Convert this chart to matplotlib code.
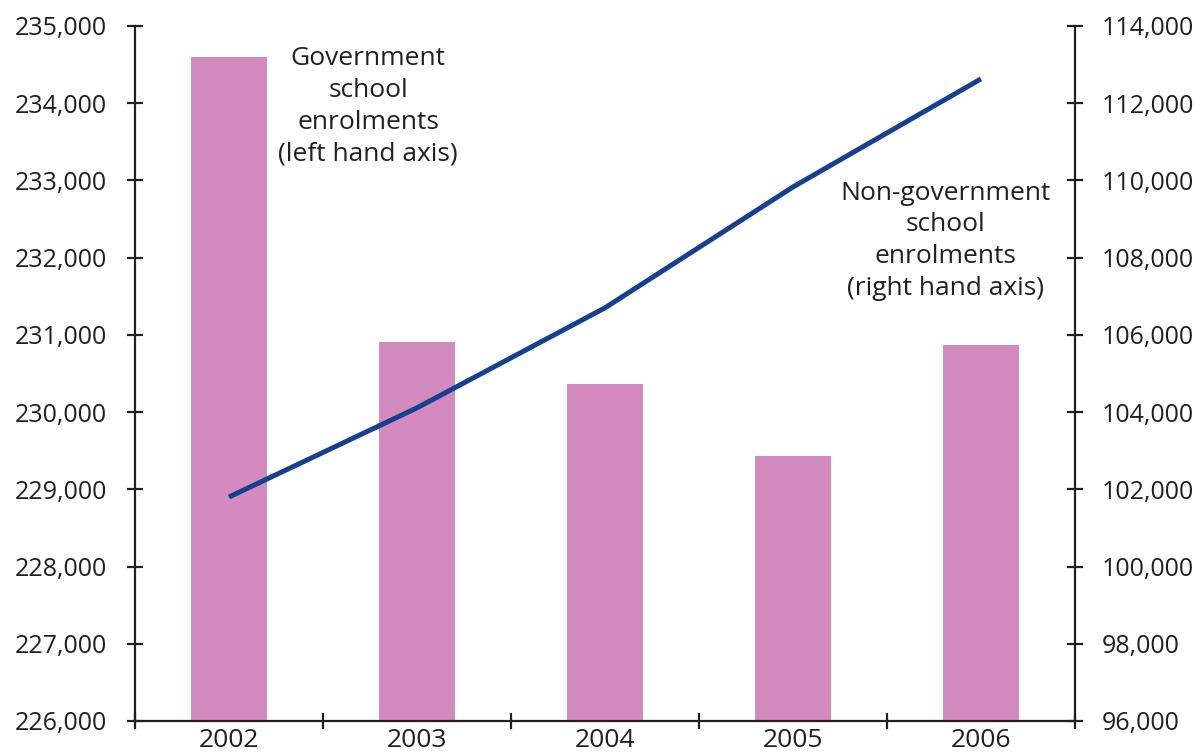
import numpy as np
import matplotlib.pyplot as plt
from matplotlib.ticker import FuncFormatter, FixedLocator

years = ["2002", "2003", "2004", "2005", "2006"]
government = [234600, 230910, 230365, 229430, 230870]
non_government = [101800, 104110, 106700, 109830, 112630]

plt.rcParams['font.family'] = ['Open Sans', 'DejaVu Sans']
ink = '#231F20'
fs = 19
tick_fs = 18

fig = plt.figure(figsize=(12.02, 7.53), dpi=100)
ax = fig.add_axes([0.1123, 0.0425, 0.7820, 0.9230])
ax2 = ax.twinx()

x = np.arange(len(years))
ax.bar(x, government, width=0.405, color='#D38BBF', zorder=2)
ax2.plot(x, non_government, color='#17408F', linewidth=3.6, solid_capstyle='butt', zorder=3)

ax.set_xlim(-0.5, len(years) - 0.5)
ax.set_ylim(226000, 235000)
ax2.set_ylim(96000, 114000)
ax.set_yticks(np.arange(226000, 235001, 1000))
ax2.set_yticks(np.arange(96000, 114001, 2000))

fmt = FuncFormatter(lambda v, p: f"{int(v):,}")
ax.yaxis.set_major_formatter(fmt)
ax2.yaxis.set_major_formatter(fmt)

ax.set_xticks(x)
ax.set_xticklabels(years)
ax.xaxis.set_minor_locator(FixedLocator(np.arange(-0.5, len(years), 1.0)))

for a in (ax, ax2):
    a.spines['top'].set_visible(False)
    for s in ('left', 'right', 'bottom'):
        a.spines[s].set_color(ink)
        a.spines[s].set_linewidth(1.6)
    a.tick_params(axis='y', direction='inout', length=12, width=1.6, color=ink,
                  labelsize=tick_fs, labelcolor=ink)
ax.tick_params(axis='y', pad=14)
ax2.tick_params(axis='y', pad=13)
ax.tick_params(axis='x', which='major', length=0, labelsize=fs, labelcolor=ink, pad=5)
ax.tick_params(axis='x', which='minor', direction='inout', length=12, width=1.6, color=ink)
ax.spines['right'].set_visible(False)
ax2.spines['left'].set_visible(False)
ax2.spines['bottom'].set_visible(False)

ax.text(0.74, 233960, "Government\nschool\nenrolments\n(left hand axis)",
        ha='center', va='center', fontsize=fs, color=ink, linespacing=1.35)
ax2.text(3.81, 108440, "Non-government\nschool\nenrolments\n(right hand axis)",
         ha='center', va='center', fontsize=fs, color=ink, linespacing=1.35)

fig.savefig("out.png", dpi=100)
